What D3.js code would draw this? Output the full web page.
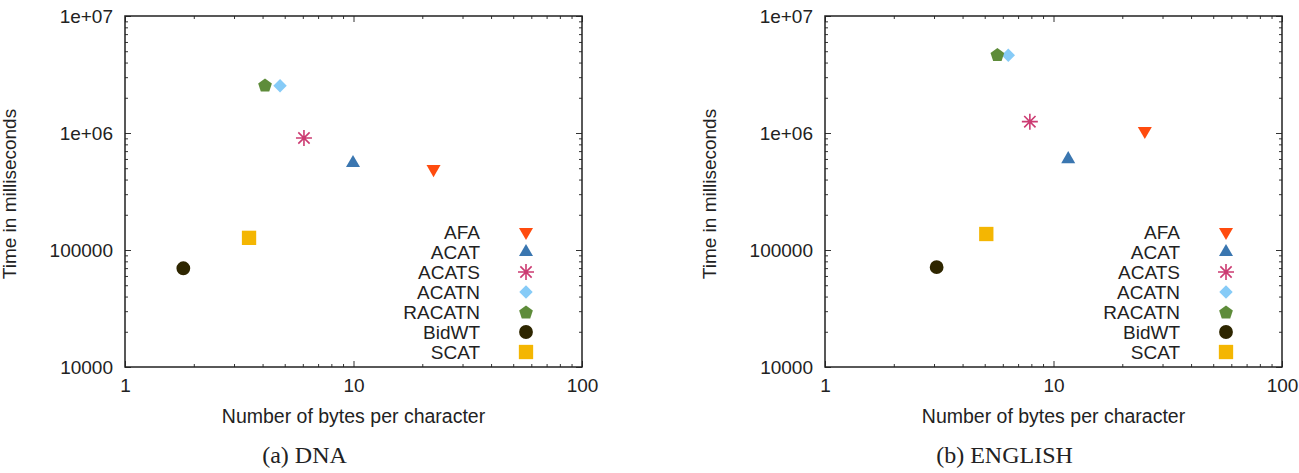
<!DOCTYPE html>
<html>
<head>
<meta charset="utf-8">
<script src="https://cdn.jsdelivr.net/npm/d3@7"></script>
<style>
  html, body { margin: 0; padding: 0; background: #fff; }
  svg text { font-family: "Liberation Sans", Arial, sans-serif; fill: #222; }
  .caption { font-family: "Liberation Serif", "Times New Roman", serif; }
</style>
</head>
<body>
<svg id="chart" width="1299" height="473"></svg>
<script>
// methods, in legend order
const methods = ["AFA", "ACAT", "ACATS", "ACATN", "RACATN", "BidWT", "SCAT"];
const symbolNames = ["triangleDown", "triangleUp", "asterisk", "diamond", "pentagon", "circle", "square"];
const colors = ["#ff4b0e", "#3a76b0", "#cc3b72", "#86cbf7", "#5e8c3a", "#2e2600", "#f4b602"];

// (a) DNA
const dnaBytes = [22.4, 9.95, 6.07, 4.77, 4.10, 1.80, 3.49];
const dnaTime = [492000, 554000, 906000, 2530000, 2570000, 69800, 127000];

// (b) ENGLISH
const engBytes = [25.1, 11.6, 7.88, 6.34, 5.68, 3.08, 5.08];
const engTime = [1040000, 598000, 1250000, 4620000, 4680000, 71300, 137000];

// axes
const xTicks = [1, 10, 100];
const xTickLabels = ["1", "10", "100"];
const yTicks = [1e4, 1e5, 1e6, 1e7];
const yTickLabels = ["10000", "100000", "1e+06", "1e+07"];

const panels = [
  { caption: "(a) DNA", bytes: dnaBytes, time: dnaTime, left: 125 },
  { caption: "(b) ENGLISH", bytes: engBytes, time: engTime, left: 825 }
];

const svg = d3.select("#chart");
const plotW = 457, plotTop = 16, plotBottom = 367;

// 마커 모양
function markerPath(name) {
  if (name === "triangleUp") return d3.symbol(d3.symbolTriangle, 85)();
  if (name === "triangleDown") return d3.symbol(d3.symbolTriangle, 85)();
  if (name === "diamond") return d3.symbol(d3.symbolDiamond2, 115)();
  if (name === "circle") return d3.symbol(d3.symbolCircle, 150)();
  if (name === "square") return d3.symbol(d3.symbolSquare, 205)();
  if (name === "pentagon") {
    const r = 7.2;
    const pts = d3.range(5).map(i => {
      const a = -Math.PI / 2 + i * 2 * Math.PI / 5;
      return [r * Math.cos(a), r * Math.sin(a) + 0.6];
    });
    return "M" + pts.map(p => p.join(",")).join("L") + "Z";
  }
  if (name === "asterisk") {
    const r = 8;
    return d3.range(4).map(i => {
      const a = i * Math.PI / 4;
      const dx = r * Math.cos(a), dy = r * Math.sin(a);
      return `M${-dx},${-dy}L${dx},${dy}`;
    }).join("");
  }
}

function drawMarker(g, i, x, y) {
  const name = symbolNames[i];
  const p = g.append("path")
    .attr("d", markerPath(name));
  if (name === "asterisk") {
    p.attr("fill", "none").attr("stroke", colors[i]).attr("stroke-width", 1.6);
  } else {
    p.attr("fill", colors[i]);
  }
  const rot = name === "triangleDown" ? " rotate(180)" : "";
  p.attr("transform", `translate(${x},${y})${rot}`);
}

panels.forEach(panel => {
  const x = d3.scaleLog().domain([1, 100]).range([panel.left, panel.left + plotW]);
  const y = d3.scaleLog().domain([1e4, 1e7]).range([plotBottom, plotTop]);

  const g = svg.append("g");

  // minor ticks
  const xMinor = x.ticks().filter(v => !xTicks.includes(v));
  const yMinor = y.ticks().filter(v => !yTicks.includes(v));

  const axisStyle = sel => {
    sel.select(".domain").remove();
    sel.selectAll(".tick line").attr("stroke", "#333").attr("stroke-width", 1);
    sel.selectAll("text").attr("font-size", "19px").attr("fill", "#222")
      .attr("font-family", "Liberation Sans, Arial, sans-serif");
  };

  // bottom / top
  g.append("g").attr("transform", `translate(0,${plotBottom})`)
    .call(d3.axisBottom(x).tickValues(xTicks).tickSize(-6).tickPadding(12)
      .tickFormat((d, i) => xTickLabels[i]))
    .call(axisStyle);
  g.append("g").attr("transform", `translate(0,${plotBottom})`)
    .call(d3.axisBottom(x).tickValues(xMinor).tickSize(-3).tickFormat(""))
    .call(axisStyle);
  g.append("g").attr("transform", `translate(0,${plotTop})`)
    .call(d3.axisTop(x).tickValues(xTicks).tickSize(-6).tickFormat(""))
    .call(axisStyle);
  g.append("g").attr("transform", `translate(0,${plotTop})`)
    .call(d3.axisTop(x).tickValues(xMinor).tickSize(-3).tickFormat(""))
    .call(axisStyle);

  // left / right
  g.append("g").attr("transform", `translate(${panel.left},0)`)
    .call(d3.axisLeft(y).tickValues(yTicks).tickSize(-6).tickPadding(12)
      .tickFormat((d, i) => yTickLabels[i]))
    .call(axisStyle);
  g.append("g").attr("transform", `translate(${panel.left},0)`)
    .call(d3.axisLeft(y).tickValues(yMinor).tickSize(-3).tickFormat(""))
    .call(axisStyle);
  g.append("g").attr("transform", `translate(${panel.left + plotW},0)`)
    .call(d3.axisRight(y).tickValues(yTicks).tickSize(-6).tickFormat(""))
    .call(axisStyle);
  g.append("g").attr("transform", `translate(${panel.left + plotW},0)`)
    .call(d3.axisRight(y).tickValues(yMinor).tickSize(-3).tickFormat(""))
    .call(axisStyle);

  // border
  g.append("rect")
    .attr("x", panel.left).attr("y", plotTop)
    .attr("width", plotW).attr("height", plotBottom - plotTop)
    .attr("fill", "none").attr("stroke", "#222").attr("stroke-width", 1.5);

  // axis titles
  g.append("text")
    .attr("x", panel.left + plotW / 2).attr("y", 423)
    .attr("text-anchor", "middle").attr("font-size", "19.5px")
    .text("Number of bytes per character");
  g.append("text")
    .attr("transform", `translate(${panel.left - 109},194) rotate(-90)`)
    .attr("text-anchor", "middle").attr("font-size", "19px")
    .text("Time in milliseconds");

  // caption
  g.append("text").attr("class", "caption")
    .attr("x", panel.left + plotW / 2 - 49).attr("y", 463)
    .attr("text-anchor", "middle").attr("font-size", "24px")
    .text(panel.caption);

  // points
  methods.forEach((m, i) => {
    drawMarker(g, i, x(panel.bytes[i]), y(panel.time[i]));
  });

  // legend
  const legRight = panel.left + plotW - 102;
  const legMarker = panel.left + plotW - 56;
  methods.forEach((m, i) => {
    const ly = 232 + i * 20;
    g.append("text")
      .attr("x", legRight).attr("y", ly)
      .attr("dy", "0.35em")
      .attr("text-anchor", "end").attr("font-size", "19px")
      .text(m);
    drawMarker(g, i, legMarker, ly);
  });
});
</script>
</body>
</html>
